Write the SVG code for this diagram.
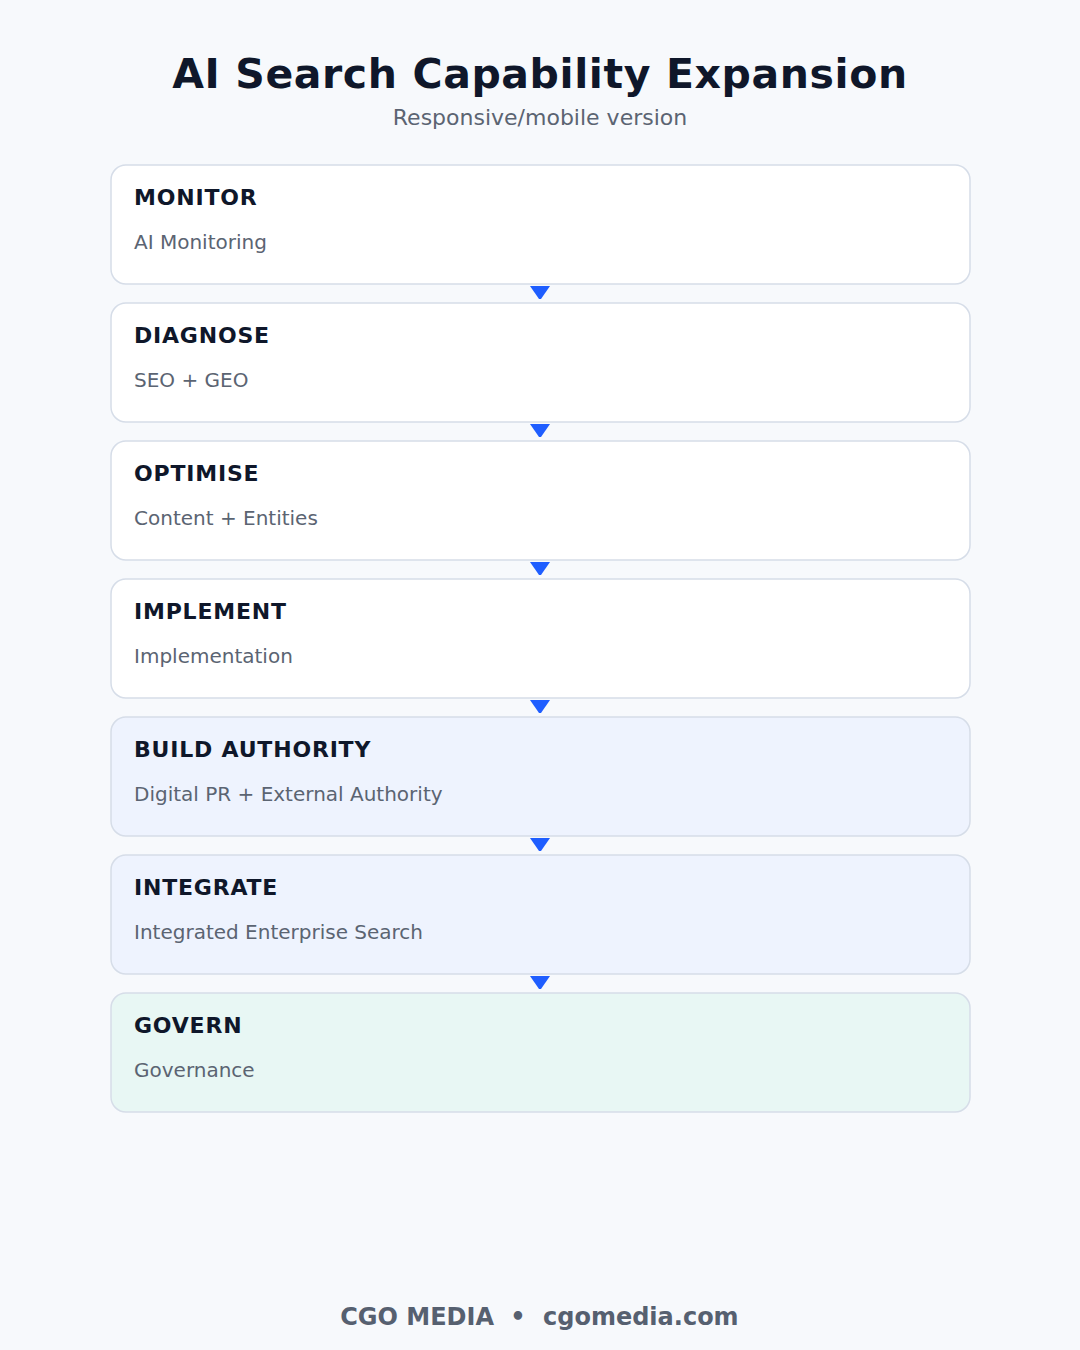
<svg xmlns="http://www.w3.org/2000/svg" width="1080" height="1350" viewBox="0 0 1080 1350">
<defs>
<style>
.bg{fill:#f7f9fc}
.box{stroke:#d6dde8;stroke-width:1.5}
.w{fill:#ffffff}
.b{fill:#eef3fe}
.g{fill:#e8f7f4}
.t{font-family:"DejaVu Sans",sans-serif;font-weight:bold;font-size:22px;fill:#0f172a;letter-spacing:0.8px}
.s{font-family:"DejaVu Sans",sans-serif;font-size:20px;fill:#5b6472}
.title{font-family:"DejaVu Sans",sans-serif;font-weight:bold;font-size:41px;fill:#0f172a;text-anchor:middle;letter-spacing:0.6px}
.sub{font-family:"DejaVu Sans",sans-serif;font-size:22px;fill:#5b6472;text-anchor:middle}
.foot{font-family:"DejaVu Sans",sans-serif;font-weight:bold;font-size:24px;fill:#566070}
.ah{fill:#1f5eff}
</style>
</defs>
<rect class="bg" x="0" y="0" width="1080" height="1350"/>
<text class="title" x="540" y="88">AI Search Capability Expansion</text>
<text class="sub" x="540" y="125">Responsive/mobile version</text>

<g id="connectors">
<path class="ah" d="M530,286 L550,286 L541,299 L539,299 Z"/>
<path class="ah" d="M530,424 L550,424 L541,437 L539,437 Z"/>
<path class="ah" d="M530,562 L550,562 L541,575 L539,575 Z"/>
<path class="ah" d="M530,700 L550,700 L541,713 L539,713 Z"/>
<path class="ah" d="M530,838 L550,838 L541,851 L539,851 Z"/>
<path class="ah" d="M530,976 L550,976 L541,989 L539,989 Z"/>
</g>

<g id="monitor">
<rect class="box w" x="111" y="165" width="859" height="119" rx="15"/>
<text class="t" x="134" y="205">MONITOR</text>
<text class="s" x="134" y="249">AI Monitoring</text>
</g>
<g id="diagnose">
<rect class="box w" x="111" y="303" width="859" height="119" rx="15"/>
<text class="t" x="134" y="343">DIAGNOSE</text>
<text class="s" x="134" y="387">SEO + GEO</text>
</g>
<g id="optimise">
<rect class="box w" x="111" y="441" width="859" height="119" rx="15"/>
<text class="t" x="134" y="481">OPTIMISE</text>
<text class="s" x="134" y="525">Content + Entities</text>
</g>
<g id="implement">
<rect class="box w" x="111" y="579" width="859" height="119" rx="15"/>
<text class="t" x="134" y="619">IMPLEMENT</text>
<text class="s" x="134" y="663">Implementation</text>
</g>
<g id="build-authority">
<rect class="box b" x="111" y="717" width="859" height="119" rx="15"/>
<text class="t" x="134" y="757">BUILD AUTHORITY</text>
<text class="s" x="134" y="801">Digital PR + External Authority</text>
</g>
<g id="integrate">
<rect class="box b" x="111" y="855" width="859" height="119" rx="15"/>
<text class="t" x="134" y="895">INTEGRATE</text>
<text class="s" x="134" y="939">Integrated Enterprise Search</text>
</g>
<g id="govern">
<rect class="box g" x="111" y="993" width="859" height="119" rx="15"/>
<text class="t" x="134" y="1033">GOVERN</text>
<text class="s" x="134" y="1077">Governance</text>
</g>

<g id="footer">
<text class="foot" x="494" y="1325" text-anchor="end">CGO MEDIA</text>
<text class="foot" x="518" y="1325" text-anchor="middle">•</text>
<text class="foot" x="543" y="1325">cgomedia.com</text>
</g>
</svg>
